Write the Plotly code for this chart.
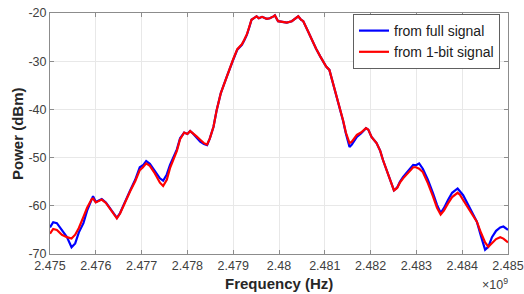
import plotly.graph_objects as go

freq_ghz = [
    2.47500, 2.47507, 2.47515, 2.47526, 2.47537, 2.47547, 2.47555, 2.47563, 2.47573, 2.47581,
    2.47591, 2.47594, 2.47600, 2.47613, 2.47622, 2.47633, 2.47646, 2.47653, 2.47664, 2.47675,
    2.47686, 2.47696, 2.47703, 2.47710, 2.47718, 2.47729, 2.47740, 2.47747, 2.47755, 2.47762,
    2.47777, 2.47784, 2.47793, 2.47800, 2.47806, 2.47812, 2.47820, 2.47828, 2.47836, 2.47843,
    2.47849, 2.47857, 2.47864, 2.47873, 2.47886, 2.47893, 2.47900, 2.47909, 2.47919, 2.47924,
    2.47930, 2.47935, 2.47940, 2.47946, 2.47951, 2.47956, 2.47963, 2.47973, 2.47980, 2.47988,
    2.47991, 2.47998, 2.48007, 2.48017, 2.48028, 2.48037, 2.48042, 2.48048, 2.48053, 2.48061,
    2.48071, 2.48081, 2.48090, 2.48103, 2.48110, 2.48118, 2.48126, 2.48133, 2.48140, 2.48146,
    2.48154, 2.48159, 2.48170, 2.48179, 2.48190, 2.48195, 2.48202, 2.48213, 2.48221, 2.48227,
    2.48235, 2.48242, 2.48251, 2.48258, 2.48264, 2.48271, 2.48282, 2.48293, 2.48299, 2.48306,
    2.48314, 2.48325, 2.48336, 2.48345, 2.48353, 2.48360, 2.48369, 2.48378, 2.48390, 2.48395,
    2.48402, 2.48413, 2.48421, 2.48432, 2.48441, 2.48450, 2.48457, 2.48465, 2.48474, 2.48483,
    2.48490, 2.48500,
]

power_full = [
    -64.5, -63.4, -63.6, -65.0, -66.5, -68.6, -67.8, -65.5, -63.6, -61.0,
    -58.4, -58.0, -59.2, -58.6, -59.3, -60.8, -62.5, -61.5, -59.0, -56.8,
    -54.6, -52.0, -51.6, -50.7, -51.3, -52.8, -54.3, -54.8, -53.5, -51.5,
    -48.3, -46.0, -44.8, -45.1, -44.5, -45.0, -45.9, -46.7, -47.2, -47.4,
    -46.0, -43.6, -40.1, -36.6, -33.2, -31.3, -29.7, -27.6, -26.6, -25.7,
    -24.5, -23.0, -21.4, -21.0, -20.7, -21.1, -20.8, -21.2, -21.1, -20.7,
    -20.5, -21.7, -21.8, -22.0, -21.7, -21.0, -20.7, -21.4, -21.7, -23.3,
    -25.5, -27.4, -29.0, -31.1, -31.8, -34.5, -37.3, -40.1, -42.4, -45.0,
    -47.8, -47.3, -45.7, -45.0, -43.9, -44.2, -45.7, -47.0, -48.6, -50.5,
    -52.6, -54.3, -56.8, -56.2, -55.0, -54.0, -52.8, -51.5, -51.6, -51.2,
    -52.3, -54.6, -57.3, -59.8, -61.5, -60.5, -58.8, -57.3, -56.4, -56.9,
    -57.8, -59.8, -61.3, -63.3, -66.3, -69.1, -68.5, -66.5, -65.2, -64.5,
    -64.3, -65.0,
]

power_1bit = [
    -65.8, -64.8, -65.0, -66.0, -66.5, -66.8, -66.0, -64.6, -62.3, -60.4,
    -58.6, -58.5, -59.3, -58.7, -59.4, -60.8, -62.6, -61.6, -59.2, -57.0,
    -54.9, -52.6, -52.0, -51.2, -51.7, -53.3, -55.2, -55.9, -54.6, -52.2,
    -48.6, -46.2, -44.8, -45.1, -44.5, -44.9, -45.6, -46.3, -47.0, -47.3,
    -46.0, -43.6, -40.1, -36.6, -33.1, -31.2, -29.6, -27.5, -26.5, -25.6,
    -24.4, -22.9, -21.4, -21.0, -20.7, -21.1, -20.8, -21.2, -21.1, -20.7,
    -20.5, -21.7, -21.8, -22.0, -21.7, -21.0, -20.7, -21.4, -21.7, -23.3,
    -25.5, -27.4, -29.0, -31.1, -31.8, -34.5, -37.3, -40.1, -42.3, -44.8,
    -47.0, -46.7, -45.3, -44.8, -43.9, -44.2, -45.7, -47.0, -48.6, -50.5,
    -52.6, -54.3, -56.8, -56.3, -55.2, -54.3, -53.2, -52.0, -52.0, -52.3,
    -53.0, -55.3, -58.0, -60.4, -61.8, -61.0, -59.5, -58.2, -57.3, -57.7,
    -58.8, -60.5, -61.8, -63.3, -65.6, -67.6, -68.5, -67.8, -66.9, -66.5,
    -66.8, -67.6,
]

x_tickvals = [2.475, 2.476, 2.477, 2.478, 2.479, 2.480, 2.481, 2.482, 2.483, 2.484, 2.485]
x_ticktext = ["2.475", "2.476", "2.477", "2.478", "2.479", "2.48", "2.481", "2.482", "2.483", "2.484", "2.485"]
y_tickvals = [-70, -60, -50, -40, -30, -20]
y_ticktext = ["-70", "-60", "-50", "-40", "-30", "-20"]

FONT = "Liberation Sans, Arial, sans-serif"
AX = "#8c8c8c"
TXT = "#404040"

W, H = 524, 294
ML, MR, MT, MB = 50, 16, 13, 40
plot_w = W - ML - MR
plot_h = H - MT - MB

def px_x(px):
    return (px - ML) / plot_w

def px_y(py):
    return (H - MB - py) / plot_h

fig = go.Figure()
fig.add_trace(go.Scatter(x=freq_ghz, y=power_full, mode="lines", name="from full signal",
                         line=dict(color="#0000ff", width=2.2)))
fig.add_trace(go.Scatter(x=freq_ghz, y=power_1bit, mode="lines", name="from 1-bit signal",
                         line=dict(color="#ff0000", width=2.2)))

axis_common = dict(showline=True, linecolor=AX, linewidth=1, mirror="ticks",
                   ticks="inside", ticklen=4, tickcolor=AX, showgrid=True,
                   gridcolor="#e8e8e8", gridwidth=1, zeroline=False, automargin=False,
                   tickfont=dict(family=FONT, size=12.5, color=TXT))

fig.update_layout(
    width=W, height=H,
    margin=dict(l=ML, r=MR, t=MT, b=MB, autoexpand=False),
    paper_bgcolor="white", plot_bgcolor="white",
    showlegend=True,
    legend=dict(x=px_x(500), y=px_y(14), xanchor="right", yanchor="top",
                bgcolor="white", bordercolor="#606060", borderwidth=1,
                font=dict(family=FONT, size=14, color="#202020"),
                tracegroupgap=0, itemwidth=30),
    xaxis=dict(range=[2.475, 2.485], tickvals=x_tickvals, ticktext=x_ticktext, **axis_common),
    yaxis=dict(range=[-70, -20], tickvals=y_tickvals, ticktext=y_ticktext, **axis_common),
    annotations=[
        dict(text="<b>Frequency (Hz)</b>", x=px_x(279), y=px_y(283), xref="paper", yref="paper",
             xanchor="center", yanchor="middle", showarrow=False,
             font=dict(family=FONT, size=15, color="#262626")),
        dict(text="<b>Power (dBm)</b>", x=px_x(17), y=px_y(134), xref="paper", yref="paper",
             xanchor="center", yanchor="middle", showarrow=False, textangle=-90,
             font=dict(family=FONT, size=15, color="#262626")),
        dict(text="×10<sup>9</sup>", x=px_x(510), y=px_y(284), xref="paper", yref="paper",
             xanchor="right", yanchor="middle", showarrow=False,
             font=dict(family=FONT, size=12.5, color=TXT)),
    ],
)

fig.write_html("out.html", config={"displayModeBar": False},
               post_script="document.body.style.margin='0';document.body.style.overflow='hidden';")
